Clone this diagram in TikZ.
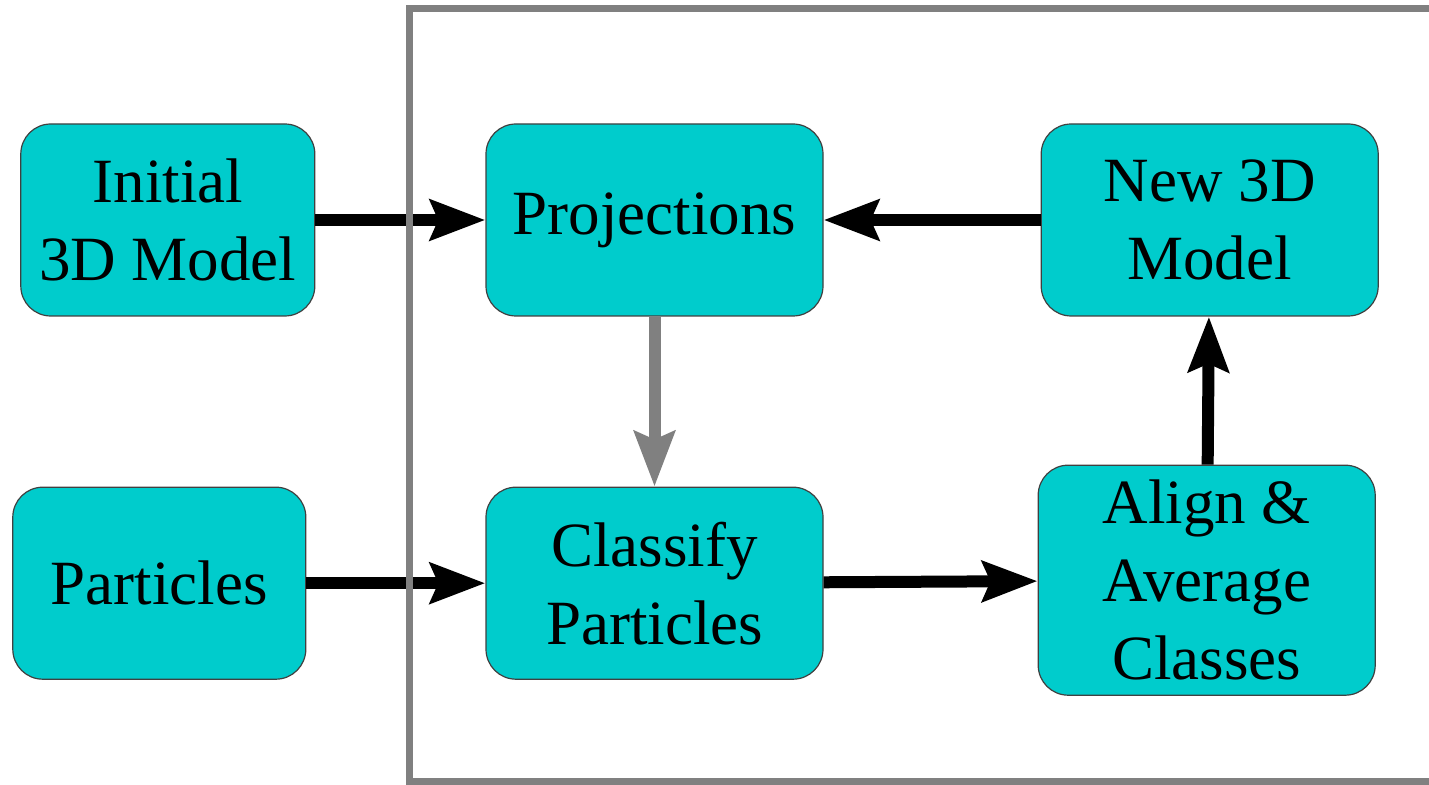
\documentclass[tikz,border=0pt]{standalone}
\usepackage{fontspec}
\setmainfont{Liberation Serif}
\usepackage{xcolor}
\usepackage{tikz}
\usetikzlibrary{positioning}
\usetikzlibrary{arrows.meta}
\definecolor{boxcyan}{HTML}{00CCCC}
\tikzset{flow node/.style={rectangle,rounded corners=15pt,fill=boxcyan,draw=black!75,line width=0.6pt,minimum width=168.5pt,minimum height=96pt,inner sep=4pt,align=center,font=\fontsize{31.5}{39}\selectfont},
         flow arrow/.style={line width=6pt,-{Stealth[length=27.5pt,width=20pt,inset=4pt]}},}

\begin{document}
\begin{tikzpicture}[x=0.5pt,y=-0.5pt]

    \useasboundingbox (0,0) rectangle (1429,785);

    \node[flow node] (proj) at (654.5,220) {Projections};
    \node[flow node] (class) [below = 85pt of proj] {Classify\\Particles};
    \node[flow node] (init) [left = 85pt of proj, minimum width=147pt] {Initial\\3D Model};
    \node[flow node] (part) [left = 89.5pt of class, minimum width=146.5pt] {Particles};
    \node[flow node] (new) [right = 108.5pt of proj] {New 3D\\Model};
    \node[flow node] (align) [below = 74pt of new, xshift=-1.5pt, minimum height=115pt] {Align \&\\Average\\Classes};

    \draw[flow arrow] (init) -- (proj);
    \draw[flow arrow] (part) -- (class);
    \draw[flow arrow] (class) -- (align);
    \draw[flow arrow] (align) -- (new);
    \draw[flow arrow] (new) -- (proj);
    \draw[flow arrow,gray] (proj) -- (class);

    % frame round the loop
    \draw[line width=3.5pt,gray] (1450,9) -- (409,9) -- (409,781) -- (1450,781);

\end{tikzpicture}
\end{document}
